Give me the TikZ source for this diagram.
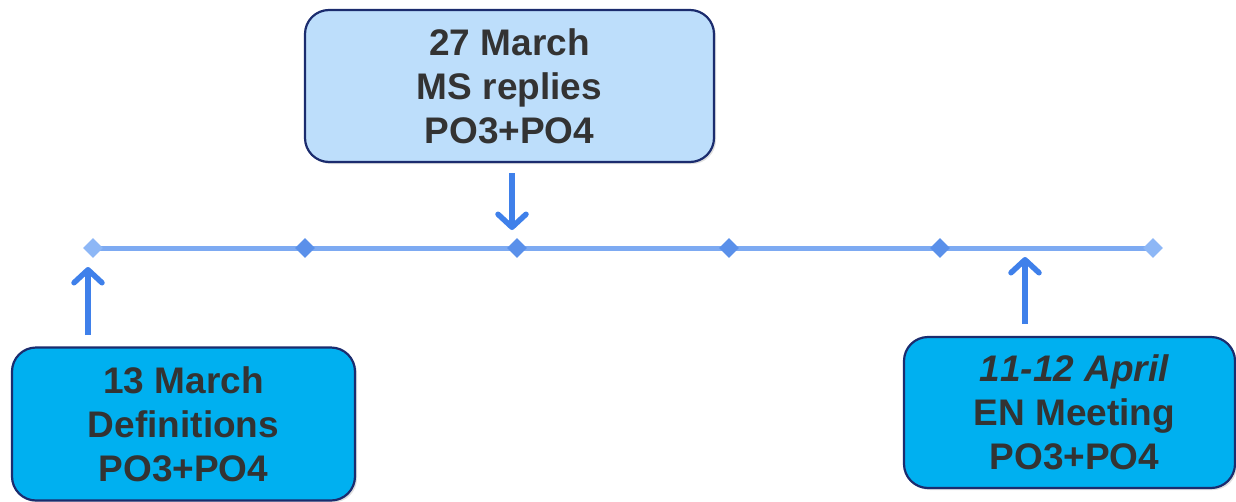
\documentclass[tikz,border=0pt]{standalone}
\usepackage{fontspec}
\setmainfont{Liberation Sans}[Ligatures={NoCommon},Numbers=Lining]
\usetikzlibrary{shapes.geometric,arrows.meta,shadows}
\definecolor{lineblue}{HTML}{7DAAF2}
\definecolor{dotblue}{HTML}{5A90EA}
\definecolor{endblue}{HTML}{8DB7F6}
\definecolor{arrowblue}{HTML}{3F80EA}
\definecolor{navy}{HTML}{1B2C6E}
\definecolor{paleblue}{HTML}{BDDEFB}
\definecolor{cyanbox}{HTML}{00B0F0}
\definecolor{txtgray}{HTML}{333333}
\tikzset{
  evbox/.style={draw=navy, line width=2.2pt, rounded corners=24pt, align=center,
    font=\fontsize{37}{44}\selectfont\bfseries, text=txtgray,
    drop shadow={opacity=0.25, shadow xshift=2pt, shadow yshift=-2pt}},
  tick/.style={diamond, fill=dotblue, inner sep=0pt, minimum size=20pt},
  endtick/.style={tick, fill=endblue},
  pointer/.style={draw=arrowblue, line width=5.5pt,
    -{Straight Barb[length=13pt,width=28pt,line cap=round,round]}},
}
\begin{document}
\begin{tikzpicture}[x=1pt,y=-1pt]
\useasboundingbox (0,0) rectangle (1236,501);
% timeline
\coordinate (tl0) at (93,248);
\coordinate (tl5) at (1153,248);
\draw[lineblue, line width=5pt] (tl0) -- (tl5);
\node[endtick] (d0) at (93,248) {};
\node[tick] (d1) at (305,248) {};
\node[tick] (d2) at (517,248) {};
\node[tick] (d3) at (729,248) {};
\node[tick] (d4) at (940,248) {};
\node[endtick] (d5) at (1153,248) {};
% boxes
\node[evbox, fill=paleblue, minimum width=409pt, minimum height=152pt] (top) at (509.5,86)
  {27 March\\MS replies\\PO3+PO4};
\node[evbox, fill=cyanbox, minimum width=343pt, minimum height=153pt] (left) at (183.5,424)
  {13 March\\Definitions\\PO3+PO4};
\node[evbox, fill=cyanbox, minimum width=331pt, minimum height=151pt] (right) at (1069.5,412.5)
  {\hspace*{10pt}\textit{1\kern0pt 1-12 April}\\\hspace*{10pt}EN Meeting\\\hspace*{10pt}PO3+PO4};
% arrows
\coordinate (a1s) at (512,173);
\coordinate (a1e) at (512,230);
\draw[pointer] (a1s) -- (a1e);
\coordinate (a2s) at (88,335);
\coordinate (a2e) at (88,267);
\draw[pointer] (a2s) -- (a2e);
\coordinate (a3s) at (1025,324);
\coordinate (a3e) at (1025,257);
\draw[pointer] (a3s) -- (a3e);
\end{tikzpicture}
\end{document}
